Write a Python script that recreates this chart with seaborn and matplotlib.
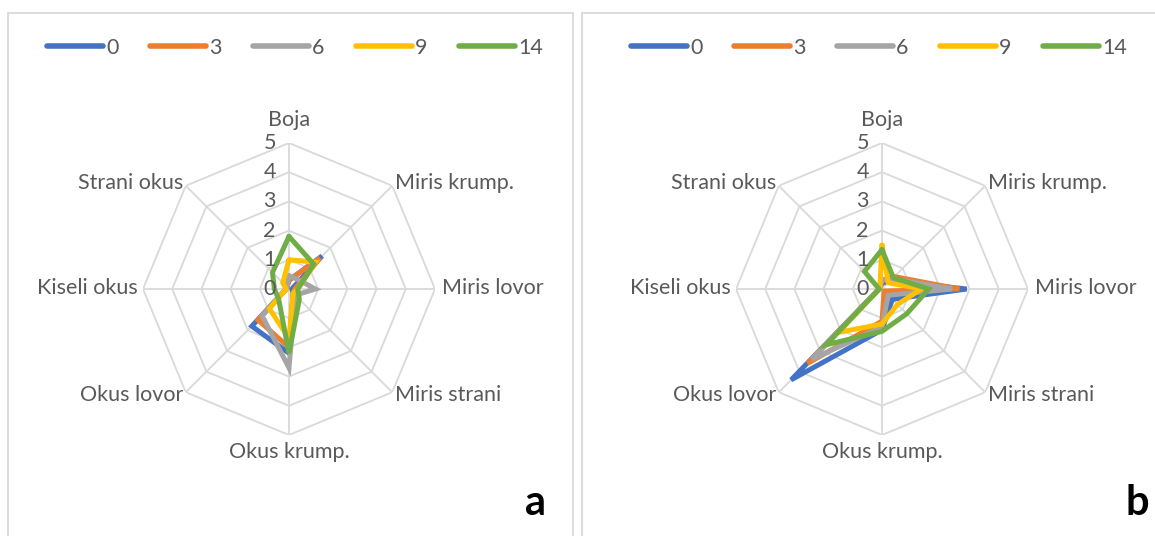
import numpy as np
import pandas as pd
import matplotlib
matplotlib.use("Agg")
import matplotlib.pyplot as plt
import seaborn as sns

# Kategorije (osi radarskog grafa) i serije (dani)
categories = ['Boja', 'Miris krump.', 'Miris lovor', 'Miris strani',
              'Okus krump.', 'Okus lovor', 'Kiseli okus', 'Strani okus']
series = ['0', '3', '6', '9', '14']
colors = ['#4472C4', '#ED7D31', '#A5A5A5', '#FFC000', '#70AD47']
ticks = [0, 1, 2, 3, 4, 5]

# Graf a
a_0 = [0.3, 1.6, 0.1, 0.2, 2.2, 1.8, 0.1, 0.1]
a_3 = [0.3, 1.5, 0.2, 0.2, 2.0, 1.5, 0.1, 0.1]
a_6 = [0.45, 0.45, 0.9, 0.3, 2.7, 1.3, 0.1, 0.1]
a_9 = [1.0, 1.3, 0.3, 0.2, 1.7, 0.95, 0.1, 0.3]
a_14 = [1.8, 1.2, 0.3, 0.5, 2.2, 0.5, 0.5, 0.8]

# Graf b
b_0 = [0.2, 0.4, 2.9, 0.5, 1.4, 4.4, 0.1, 0.1]
b_3 = [0.3, 0.6, 2.65, 0.1, 1.1, 3.6, 0.1, 0.1]
b_6 = [0.3, 0.5, 2.4, 0.3, 1.3, 3.4, 0.1, 0.1]
b_9 = [1.5, 0.3, 1.35, 0.75, 1.2, 2.1, 0.1, 0.1]
b_14 = [1.35, 0.55, 1.6, 1.2, 1.45, 2.7, 0.1, 0.85]

sns.set_style("white")
plt.rcParams['font.family'] = ['Lato', 'DejaVu Sans']

theta = np.linspace(0, 2 * np.pi, len(categories), endpoint=False)
theta_closed = np.append(theta, 2 * np.pi)
grid_col = '#D9D9D9'
text_col = '#595959'
fs = 15.5


def make_df(values_list):
    rows = []
    for name, vals in zip(series, values_list):
        vals_closed = list(vals) + [vals[0]]
        for t, v in zip(theta_closed, vals_closed):
            rows.append({'theta': t, 'value': v, 'serija': name})
    return pd.DataFrame(rows)


# raspored oznaka kategorija: (ha, va, pomak u tockama)
label_pos = [
    ('center', 'bottom', (0, 9)),
    ('left', 'bottom', (2, -5)),
    ('left', 'center', (5, 1)),
    ('left', 'center', (2, -2)),
    ('center', 'top', (0, -5)),
    ('right', 'center', (-2, -2)),
    ('right', 'center', (-4, 1)),
    ('right', 'bottom', (-2, -5)),
]


def draw_radar(ax, df):
    ax.set_theta_zero_location('N')
    ax.set_theta_direction(-1)
    ax.set_ylim(0, 5)
    ax.grid(False)
    ax.spines['polar'].set_visible(False)
    ax.set_xticks([])
    ax.set_yticks([])
    ax.patch.set_alpha(0)

    # osmerokutne mreze
    for r in ticks[1:]:
        ax.plot(theta_closed, [r] * len(theta_closed), color=grid_col, lw=1.3, zorder=1)
    for t in theta:
        ax.plot([t, t], [0, 5], color=grid_col, lw=1.3, zorder=1)

    sns.lineplot(data=df, x='theta', y='value', hue='serija', palette=colors,
                 sort=False, estimator=None, lw=3.6, ax=ax, legend=False,
                 zorder=3)
    for line in ax.get_lines()[-len(series):]:
        line.set_solid_joinstyle('miter')
    ax.set_xlabel('')
    ax.set_ylabel('')

    for r in ticks:
        ax.annotate(str(r), xy=(0, r), xytext=(-14, 0), textcoords='offset points',
                    ha='center', va='center', fontsize=fs, color=text_col)
    for t, cat, (ha, va, off) in zip(theta, categories, label_pos):
        ax.annotate(cat, xy=(t, 5), xytext=off, textcoords='offset points',
                    ha=ha, va=va, fontsize=fs, color=text_col,
                    annotation_clip=False)


fig = plt.figure(figsize=(11.55, 5.36), dpi=100)
W, H = 1155, 536

# okviri grafova
for x0, x1 in [(8, 573), (582, 1160)]:
    fig.add_artist(plt.Rectangle((x0 / W, -0.1), (x1 - x0) / W, (H - 13) / H + 0.1,
                                 transform=fig.transFigure, fill=False,
                                 edgecolor=grid_col, lw=1.3))

R = 146
panels = [((289, 289), [a_0, a_3, a_6, a_9, a_14], 'a', (535, 515), 295),
          ((882, 289), [b_0, b_3, b_6, b_9, b_14], 'b', (1137, 515), 879)]

for (cx, cy), vals, letter, (lx, ly), legx in panels:
    ax = fig.add_axes([(cx - R) / W, (H - cy - R) / H, 2 * R / W, 2 * R / H],
                      projection='polar')
    draw_radar(ax, make_df(vals))
    fig.text(lx / W, (H - ly) / H, letter, ha='center', va='baseline',
             fontsize=30, fontweight='bold', color='black')
    handles = [plt.Line2D([], [], color=c, lw=4, solid_capstyle='round')
               for c in colors]
    fig.legend(handles, series, loc='center', bbox_to_anchor=(legx / W, (H - 48) / H),
               ncol=5, frameon=False, fontsize=fs, handlelength=2.6,
               handletextpad=0.15, columnspacing=1.45, labelcolor=text_col)

fig.savefig('out.png', dpi=100)
